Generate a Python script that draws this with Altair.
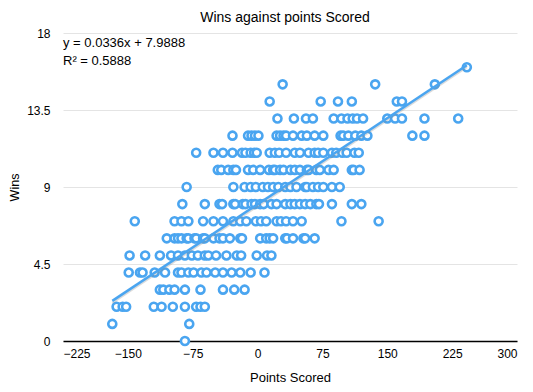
import altair as alt
import pandas as pd

FONT = "Liberation Sans"
BLUE = "#4aa5f0"

# Points scored (differential) for each wins level
pts_w16 = [242]
pts_w15 = [29, 136, 205]
pts_w14 = [14, 73, 93, 109, 161, 167]
pts_w13 = [23, 42, 56, 64, 88, 97, 104, 110, 115, 122, 150, 159, 167, 193, 232]
pts_w12 = [-29, -11, -7, -3, 1, 22, 26, 30, 33, 41, 51, 57, 66, 76, 96, 99, 105, 113, 120, 127, 179, 193]
pts_w11 = [-71, -51, -40, -29, -18, -14, -8, -4, -1, 14, 20, 25, 33, 43, 49, 59, 66, 70, 76, 86, 91, 98, 103, 112, 117]
pts_w10 = [-46, -42, -34, -28, -25, -11, -5, 3, 13, 18, 20, 26, 30, 38, 43, 49, 57, 59, 68, 72, 82, 88, 109, 111, 118]
pts_w9 = [-82, -28, -15, -8, -2, 6, 12, 18, 24, 32, 38, 45, 55, 57, 64, 70, 76, 86, 95]
pts_w8 = [-87, -61, -44, -41, -28, -26, -17, -14, -7, -3, 3, 7, 16, 22, 32, 38, 43, 49, 55, 61, 68, 71, 86, 109, 120]
pts_w7 = [-142, -96, -88, -80, -63, -51, -40, -28, -20, -13, -2, 4, 10, 22, 27, 33, 41, 51, 97, 140]
pts_w6 = [-105, -96, -92, -88, -82, -80, -73, -71, -63, -61, -51, -44, -40, -32, -20, -18, 3, 10, 14, 18, 32, 34, 41, 53, 55, 66]
pts_w5 = [-148, -130, -113, -100, -92, -84, -76, -69, -61, -57, -48, -36, -24, -19, -1, 11, 16]
pts_w4 = [-149, -136, -133, -119, -107, -92, -88, -80, -74, -65, -59, -49, -40, -30, -20, -8, 8]
pts_w3 = [-113, -109, -102, -96, -84, -66, -40, -27, -15]
pts_w2 = [-163, -156, -152, -120, -111, -98, -84, -71, -66, -61]
pts_w1 = [-168, -79]
pts_w0 = [-84]

wins_levels = list(range(16, -1, -1))
rows_by_wins = [pts_w16, pts_w15, pts_w14, pts_w13, pts_w12, pts_w11, pts_w10, pts_w9,
                pts_w8, pts_w7, pts_w6, pts_w5, pts_w4, pts_w3, pts_w2, pts_w1, pts_w0]

x_ticks = [-225, -150, -75, 0, 75, 150, 225, 300]
y_ticks = [0, 4.5, 9, 13.5, 18]

slope = 0.0336
intercept = 7.9888
eq_text = "y = 0.0336x + 7.9888"
r2_text = "R\u00b2 = 0.5888"

records = []
for w, pts in zip(wins_levels, rows_by_wins):
    for p in pts:
        records.append({"points": p, "wins": w})
df = pd.DataFrame(records)

x_min, x_max = df["points"].min(), df["points"].max()
trend = pd.DataFrame({"points": [x_min, x_max],
                      "wins": [slope * x_min + intercept, slope * x_max + intercept]})

x_scale = alt.Scale(domain=[-225, 300], nice=False, zero=False)
y_scale = alt.Scale(domain=[0, 18], nice=False, zero=True)

x_axis = alt.Axis(values=x_ticks, title="Points Scored", grid=False, ticks=False,
                  domain=True, domainColor="black", domainWidth=1.5,
                  labelFontSize=12, labelFont=FONT, labelColor="black", labelPadding=7,
                  titleFontSize=13, titleFont=FONT, titleFontWeight="normal", titleColor="black",
                  titleY=36, titleBaseline="middle")
y_axis = alt.Axis(values=y_ticks, title="Wins", grid=True, gridColor="#e4e4e4", gridWidth=1,
                  ticks=False, domain=False, labelExpr="'' + datum.value",
                  labelFontSize=12, labelFont=FONT, labelColor="black", labelPadding=13,
                  titleFontSize=12.5, titleFont=FONT, titleFontWeight="normal", titleColor="black",
                  titleAngle=-90, titleX=-49, titleY=154, titleBaseline="middle", titleAlign="center")

points = alt.Chart(df).mark_circle(
    fill="white", stroke=BLUE, strokeWidth=2.6, size=64, opacity=1, fillOpacity=1
).encode(
    x=alt.X("points:Q", scale=x_scale, axis=x_axis),
    y=alt.Y("wins:Q", scale=y_scale, axis=y_axis),
)

shadow = alt.Chart(trend).mark_line(color="#888888", strokeWidth=2, opacity=0.3, yOffset=2).encode(
    x=alt.X("points:Q", scale=x_scale),
    y=alt.Y("wins:Q", scale=y_scale),
)
line = alt.Chart(trend).mark_line(color=BLUE, strokeWidth=2.5).encode(
    x=alt.X("points:Q", scale=x_scale),
    y=alt.Y("wins:Q", scale=y_scale),
)

eq = alt.Chart(pd.DataFrame({"label": [eq_text]})).mark_text(
    align="left", baseline="middle", fontSize=13, font=FONT, color="black"
).encode(text="label:N", x=alt.value(0), y=alt.value(10))
r2 = alt.Chart(pd.DataFrame({"label": [r2_text]})).mark_text(
    align="left", baseline="middle", fontSize=13, font=FONT, color="black"
).encode(text="label:N", x=alt.value(0), y=alt.value(27.5))

chart = alt.layer(points, shadow, line, eq, r2).properties(
    width=454, height=308,
    title=alt.TitleParams("Wins against points Scored", fontSize=14, fontWeight="normal",
                          font=FONT, color="black", dx=-5, dy=2),
    autosize=alt.AutoSizeParams(type="none"),
    padding={"left": 55, "top": 25, "right": 8, "bottom": 43},
).configure_view(stroke=None)

chart.save("out.html", embed_options={"renderer": "svg", "actions": False})
